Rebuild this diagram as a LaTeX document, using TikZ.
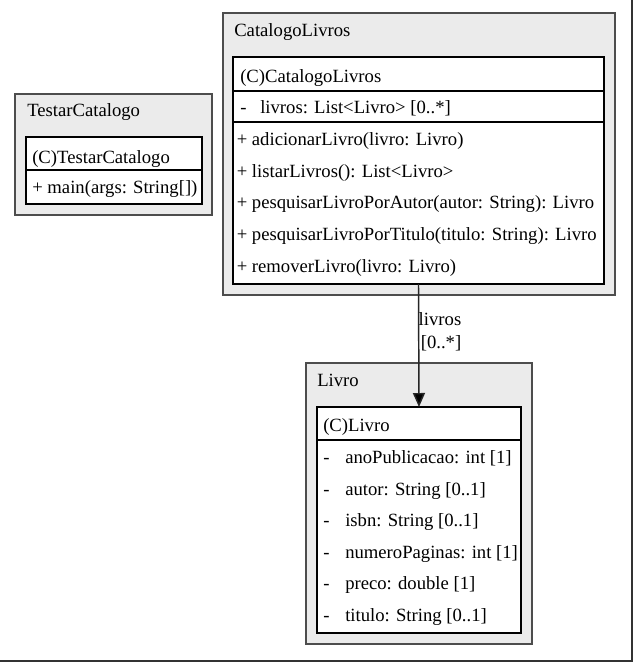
\documentclass[tikz,border=0pt]{standalone}
\usepackage{fontspec}
\setmainfont{Liberation Serif}
\usetikzlibrary{arrows.meta}
\definecolor{pkgfill}{HTML}{EBEBEB}
\definecolor{pkgline}{HTML}{4D4D4D}
\definecolor{framecol}{HTML}{333333}
\begin{document}
\begin{tikzpicture}[x=0.75pt,y=-0.75pt,
  font=\fontsize{14}{16}\selectfont,
  pkg/.style={draw=pkgline, fill=pkgfill, line width=1.1pt, rectangle, inner sep=0pt, outer sep=0pt, anchor=north west},
  cls/.style={draw=black, fill=white, line width=0.9pt, rectangle, inner sep=0pt, outer sep=0pt, anchor=north west},
  txt/.style={anchor=base west, inner sep=0pt},
  divider/.style={draw=black, line width=0.9pt},
  assoc/.style={draw=black!85, line width=1.1pt, -{Triangle[length=10.5pt,width=9pt,fill=black]}}]
\useasboundingbox (0,0) rectangle (633,662);
\fill[white] (0,0) rectangle (633,662);
% frame edges
\coordinate (frTR) at (632,0);
\coordinate (frBR) at (632,661);
\coordinate (frBL) at (0,661);
\draw[framecol, line width=1.5pt] (frTR) -- (frBR) -- (frBL);

% ---- TestarCatalogo
\node[pkg, minimum width=147.75pt, minimum height=90.75pt] (tcpkg) at (15,94) {};
\node[txt] (tctitle) at (27,116) {TestarCatalogo};
\node[cls, minimum width=132pt, minimum height=50.25pt] (tccls) at (26,137) {};
\draw[divider] (tccls.west |- 0,170) -- (tccls.east |- 0,170);
\node[txt] (tcname) at (32,163) {(C)TestarCatalogo};
\node[txt] (tcm1) at (32,193) {+ main(args: String[])};

% ---- CatalogoLivros
\node[pkg, minimum width=294pt, minimum height=211.5pt] (clpkg) at (223,13) {};
\node[txt] (cltitle) at (234,36) {CatalogoLivros};
\node[cls, minimum width=278.25pt, minimum height=170.25pt] (clcls) at (233,57) {};
\draw[divider] (clcls.west |- 0,91) -- (clcls.east |- 0,91);
\draw[divider] (clcls.west |- 0,122) -- (clcls.east |- 0,122);
\node[txt] (clname) at (240,82) {(C)CatalogoLivros};
\node[txt] (cla1) at (240,113) {\makebox[15pt][l]{-}livros: List<Livro> [0..*]};
\node[txt] (clm1) at (236.5,145) {+ adicionarLivro(livro: Livro)};
\node[txt] (clm2) at (236.5,177) {+ listarLivros(): List<Livro>};
\node[txt] (clm3) at (236.5,208) {+ pesquisarLivroPorAutor(autor: String): Livro};
\node[txt] (clm4) at (236.5,240) {+ pesquisarLivroPorTitulo(titulo: String): Livro};
\node[txt] (clm5) at (236.5,272) {+ removerLivro(livro: Livro)};

% ---- Livro
\node[pkg, minimum width=169.5pt, minimum height=210.75pt] (lvpkg) at (306,363) {};
\node[txt] (lvtitle) at (317,386) {Livro};
\node[cls, minimum width=153pt, minimum height=169.5pt] (lvcls) at (317,407) {};
\draw[divider] (lvcls.west |- 0,440) -- (lvcls.east |- 0,440);
\node[txt] (lvname) at (323,431) {(C)Livro};
\node[txt] (lva1) at (323,463) {\makebox[16.5pt][l]{-}anoPublicacao: int [1]};
\node[txt] (lva2) at (323,495) {\makebox[16.5pt][l]{-}autor: String [0..1]};
\node[txt] (lva3) at (323,526) {\makebox[16.5pt][l]{-}isbn: String [0..1]};
\node[txt] (lva4) at (323,558) {\makebox[16.5pt][l]{-}numeroPaginas: int [1]};
\node[txt] (lva5) at (323,589) {\makebox[16.5pt][l]{-}preco: double [1]};
\node[txt] (lva6) at (323,621) {\makebox[16.5pt][l]{-}titulo: String [0..1]};

% ---- association
\draw[assoc] (clcls.south) -- (lvcls.north);
\node[anchor=base, inner sep=0pt] (asl1) at (440,325) {livros};
\node[anchor=base, inner sep=0pt] (asl2) at (441,348) {[0..*]};
\end{tikzpicture}
\end{document}
